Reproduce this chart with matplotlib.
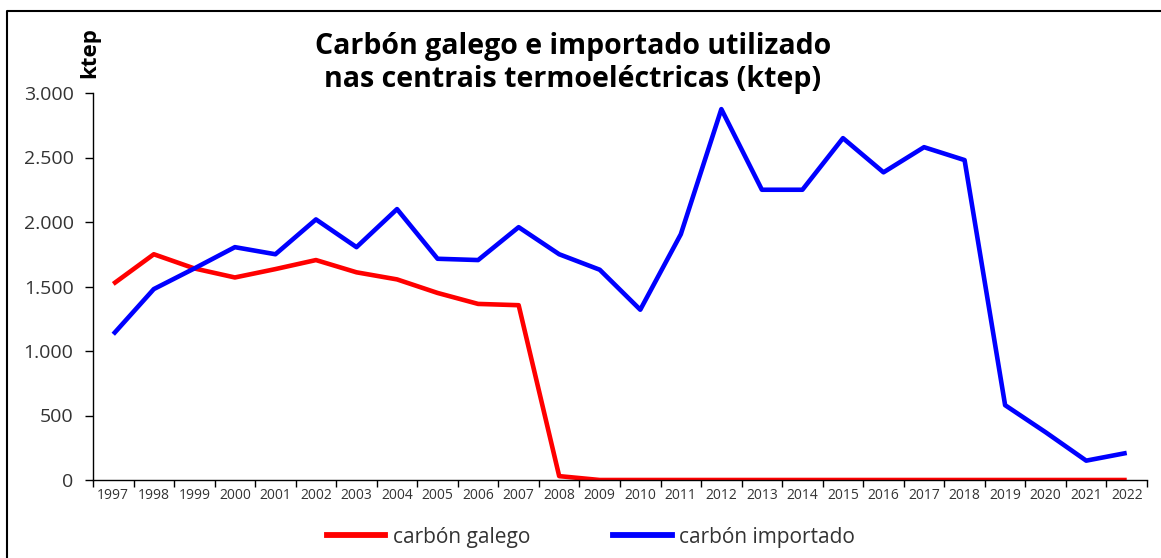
import numpy as np
import matplotlib.pyplot as plt
from matplotlib.lines import Line2D
from matplotlib.ticker import FuncFormatter

plt.rcParams['font.family'] = ['Open Sans', 'DejaVu Sans']

# years and coal use (ktep)
anos = [str(a) for a in range(1997, 2023)]
galego = [1520, 1750, 1640, 1570, 1635, 1705, 1610, 1555, 1450, 1365, 1355, 30,
          0, 0, 0, 0, 0, 0, 0, 0, 0, 0, 0, 0, 0, 0]
importado = [1130, 1480, 1640, 1805, 1750, 2020, 1805, 2100, 1715, 1705, 1960, 1750,
             1630, 1320, 1905, 2875, 2250, 2250, 2650, 2385, 2580, 2480, 580, 370, 150, 210]

W, H = 1161, 558
fig = plt.figure(figsize=(W / 100, H / 100), dpi=100)
ax = fig.add_axes([93 / W, 1 - 480 / H, (1147 - 93) / W, (480 - 93) / H])

x = np.arange(len(anos))
ax.plot(x, galego, color='#ff0000', lw=3.3, solid_capstyle='butt', label='carbón galego')
ax.plot(x, importado, color='#0000ff', lw=3.3, solid_capstyle='butt', label='carbón importado')

ax.set_xlim(-0.5, len(anos) - 0.5)
ax.set_ylim(0, 3000)
ax.set_yticks(np.arange(0, 3001, 500))
ax.yaxis.set_major_formatter(FuncFormatter(lambda v, p: f'{v:,.0f}'.replace(',', '.')))

# tick marks between categories, labels centred
ax.set_xticks(np.arange(-0.5, len(anos), 1))
ax.set_xticklabels([])
ax.set_xticks(x, minor=True)
ax.set_xticklabels(anos, minor=True, fontsize=10, color='#333333')
ax.tick_params(axis='x', which='major', length=5, width=1, direction='out')
ax.tick_params(axis='x', which='minor', length=0, pad=6)
ax.tick_params(axis='y', length=6, width=1, labelsize=14, colors='black',
               labelcolor='#333333', pad=8)

for s in ['top', 'right']:
    ax.spines[s].set_visible(False)
for s in ['left', 'bottom']:
    ax.spines[s].set_color('black')
    ax.spines[s].set_linewidth(1)

fig.text(573 / W, 1 - 63 / H, 'Carbón galego e importado utilizado\nnas centrais termoeléctricas (ktep)',
         ha='center', va='center', fontsize=20.5, fontweight='bold', linespacing=1.2)
fig.text(90 / W, 1 - 53 / H, 'ktep', rotation=90, ha='center', va='center',
         fontsize=16, fontweight='bold')

handles = [Line2D([], [], color='#ff0000', lw=4.2), Line2D([], [], color='#0000ff', lw=4.2)]
fig.legend(handles, ['carbón galego', 'carbón importado'], loc='center',
           bbox_to_anchor=(591 / W, 1 - 537 / H), ncol=2, frameon=False, fontsize=15,
           handlelength=2.8, handletextpad=0.35, columnspacing=4.0, labelcolor='#333333')

# outer frame (top and left edges only visible)
fig.add_artist(Line2D([7 / W, 7 / W, 1], [0, 1 - 11 / H, 1 - 11 / H], color='black', lw=1.5,
                      transform=fig.transFigure))

fig.savefig('out.png', dpi=100)
